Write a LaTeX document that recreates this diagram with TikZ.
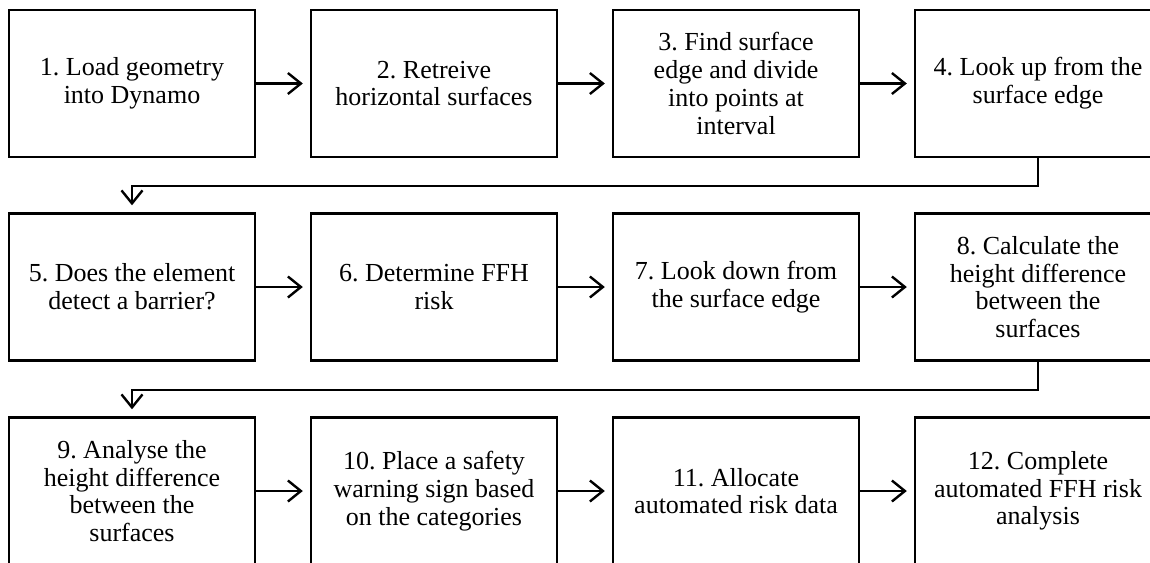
\documentclass[tikz,border=0pt]{standalone}
\usepackage{fontspec}
\setmainfont{Liberation Serif}
\usetikzlibrary{arrows.meta}
\tikzset{
  stepbox/.style={draw=black, line width=2.4pt, minimum width=246pt, minimum height=147pt,
    inner sep=0pt, align=center, font=\fontsize{26}{27.7}\selectfont\frenchspacing},
  flow/.style={draw=black, line width=2.4pt,
    -{Straight Barb[length=13pt,width=21pt,line width=2.4pt]}, shorten >=7pt},
}
\begin{document}
\begin{tikzpicture}[x=1pt,y=-1pt]
\useasboundingbox (0,0) rectangle (1150,562);
\clip (0,0) rectangle (1150,562);
% row 1
\node[stepbox] (b1) at (132,83.5) {1. Load geometry\\into Dynamo};
\node[stepbox] (b2) at (434,83.5) {2. Retreive\\horizontal surfaces};
\node[stepbox] (b3) at (736,83.5) {3. Find surface\\edge and divide\\into points at\\interval};
\node[stepbox] (b4) at (1038,83.5) {4. Look up from the\\surface edge};
% row 2
\node[stepbox] (b5) at (132,287) {5. Does the element\\detect a barrier?};
\node[stepbox] (b6) at (434,287) {6. Determine FFH\\risk};
\node[stepbox] (b7) at (736,287) {7. Look down from\\the surface edge};
\node[stepbox] (b8) at (1038,287) {8. Calculate the\\height difference\\between the\\surfaces};
% row 3
\node[stepbox] (b9) at (132,491) {9. Analyse the\\height difference\\between the\\surfaces};
\node[stepbox] (b10) at (434,491) {10. Place a safety\\warning sign based\\on the categories};
\node[stepbox] (b11) at (736,491) {11. Allocate\\automated risk data};
\node[stepbox] (b12) at (1038,491) {12. Complete\\automated FFH risk\\analysis};
% connectors within rows
\foreach \a/\b in {b1/b2,b2/b3,b3/b4,b5/b6,b6/b7,b7/b8,b9/b10,b10/b11,b11/b12}
  \draw[flow] (\a.east) -- (\b.west);
% connectors between rows
\draw[flow] (b4.south) -- ++(0,28) -| (b5.north);
\draw[flow] (b8.south) -- ++(0,28) -| (b9.north);
\end{tikzpicture}
\end{document}
